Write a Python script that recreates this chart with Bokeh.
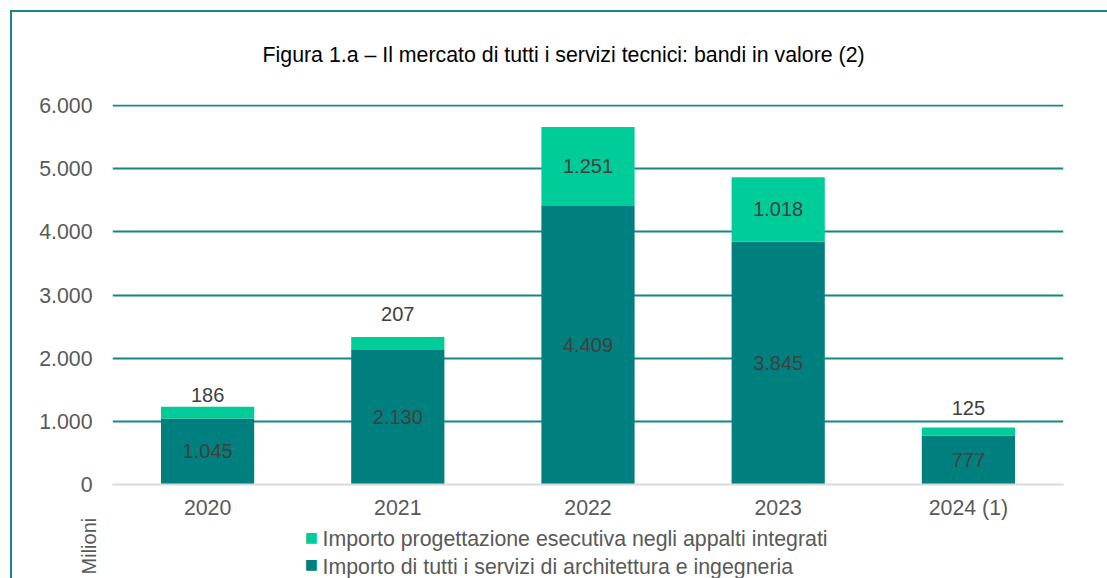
import math
from bokeh.plotting import figure
from bokeh.models import (ColumnDataSource, FactorRange, Range1d, Label, Title, FixedTicker)
from bokeh.core.properties import value
from bokeh.embed import file_html
from bokeh.resources import INLINE

# ---- data ----
years = ["2020", "2021", "2022", "2023", "2024 (1)"]
servizi = [1045, 2130, 4409, 3845, 777]          # Importo di tutti i servizi di architettura e ingegneria
progettazione = [186, 207, 1251, 1018, 125]      # Importo progettazione esecutiva negli appalti integrati
y_ticks = [0, 1000, 2000, 3000, 4000, 5000, 6000]
y_tick_labels = ["0", "1.000", "2.000", "3.000", "4.000", "5.000", "6.000"]
title_text = "Figura 1.a \u2013 Il mercato di tutti i servizi tecnici: bandi in valore (2)"
legend_labels = ["Importo progettazione esecutiva negli appalti integrati",
                 "Importo di tutti i servizi di architettura e ingegneria"]
unit_label = "Milioni"

# ---- styles ----
DARK = "#007F7F"
LIGHT = "#00CC99"
GRID = "#178686"
LABEL = "#404040"
TICK = "#595959"
FONT = "Liberation Sans"
light_label_nudge = [-12, -23, 0, 0, -20]   # px above bar top for small segments

def fmt(v):
    return f"{v:,}".replace(",", ".")

src = ColumnDataSource(dict(x=years, servizi=servizi, progettazione=progettazione))

p = figure(x_range=FactorRange(*years), y_range=Range1d(0, 6016),
           frame_width=951, frame_height=380, output_backend="svg", toolbar_location=None,
           min_border_left=112, min_border_right=44, min_border_top=104, min_border_bottom=94)
p.border_fill_color = None
p.background_fill_color = None
p.outline_line_color = None
p.styles = {"box-shadow": "inset 10px 10px 0 0 #ffffff, inset 12px 12px 0 0 " + GRID}

renderers = p.vbar_stack(["servizi", "progettazione"], x="x", width=0.49, source=src,
                         color=[DARK, LIGHT], line_color=None)

# labels
dark_y = [v / 2 for v in servizi]
light_y, light_off = [], []
for d, l, n in zip(servizi, progettazione, light_label_nudge):
    if l < 500:
        light_y.append(d + l)
        light_off.append(n)
    else:
        light_y.append(d + l / 2)
        light_off.append(0)
lab_src = ColumnDataSource(dict(
    x=years + years,
    y=dark_y + light_y,
    off=[0] * len(years) + light_off,
    t=[fmt(v) for v in servizi] + [fmt(v) for v in progettazione]))
p.text(x="x", y="y", text="t", y_offset="off", source=lab_src, text_align="center",
       text_baseline="middle", text_font=value(FONT), text_font_size="20px",
       text_color=LABEL)

# axes
p.yaxis.ticker = FixedTicker(ticks=y_ticks)
p.yaxis.major_label_overrides = {t: s for t, s in zip(y_ticks, y_tick_labels)}
p.yaxis.axis_line_color = None
p.yaxis.major_tick_line_color = None
p.yaxis.minor_tick_line_color = None
p.yaxis.major_label_standoff = 14
p.yaxis.major_label_text_font = FONT
p.yaxis.major_label_text_font_size = "21.33px"
p.yaxis.major_label_text_color = TICK

p.xaxis.axis_line_color = "#D9D9D9"
p.xaxis.axis_line_width = 2
p.xaxis.major_tick_line_color = None
p.xaxis.minor_tick_line_color = None
p.xaxis.major_label_standoff = 5
p.xaxis.major_label_text_font = FONT
p.xaxis.major_label_text_font_size = "21.33px"
p.xaxis.major_label_text_color = TICK

p.xgrid.grid_line_color = None
p.ygrid.ticker = FixedTicker(ticks=y_ticks[1:])
p.ygrid.grid_line_color = GRID
p.ygrid.grid_line_width = 2

# title
p.title.text = title_text
p.title.align = "left"
p.title.offset = 150
p.title.standoff = 76
p.title.text_font = FONT
p.title.text_font_size = "21.33px"
p.title.text_font_style = "normal"
p.title.text_color = "#000000"

# legend texts (titles below the axis)
for i, txt in enumerate(legend_labels):
    p.add_layout(Title(text=txt, align="left", offset=210, standoff=4 if i == 0 else 0,
                       text_font=FONT, text_font_size="21.33px", text_font_style="normal",
                       text_color=TICK), "below")

# legend swatches
legend_colors = [LIGHT, DARK]
legend_y = [-838, -1265]
for c, yy in zip(legend_colors, legend_y):
    p.add_layout(Label(x=1.046, y=yy, text="\u25A0", text_align="center",
                       text_baseline="middle", text_font="DejaVu Sans",
                       text_font_size="14px", text_color=c), "right")

# unit label
p.add_layout(Label(x=-0.126, y=-975, text=unit_label, angle=math.pi / 2,
                   text_align="center", text_baseline="middle", text_font=FONT,
                   text_font_size="20px", text_color=TICK), "left")

open("out.html", "w").write(file_html(p, INLINE))
